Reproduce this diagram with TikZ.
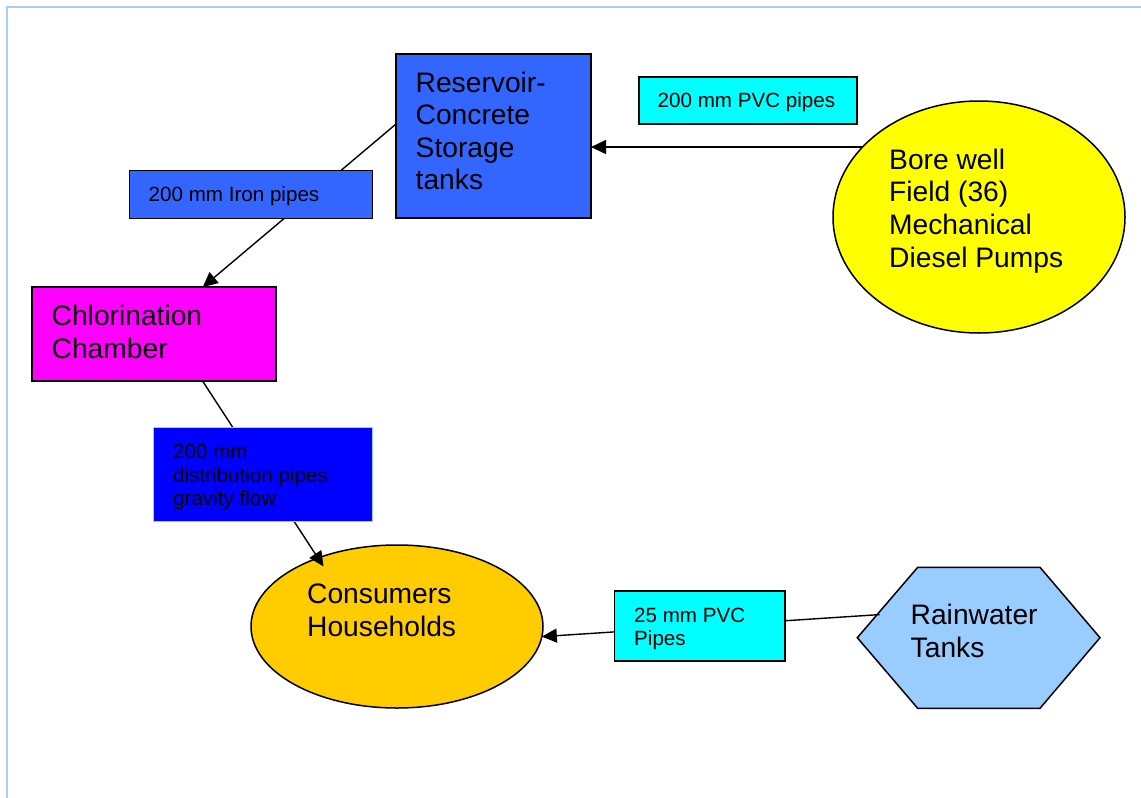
\documentclass[tikz,border=0pt]{standalone}
\usepackage{fontspec}
\setmainfont{Liberation Sans}
\usetikzlibrary{arrows.meta,shapes.geometric,calc}
\definecolor{resblue}{HTML}{3366FF}
\definecolor{pvccyan}{HTML}{00FFFF}
\definecolor{boreyel}{HTML}{FFFF00}
\definecolor{chlmag}{HTML}{FF00FF}
\definecolor{distblue}{HTML}{0000FF}
\definecolor{consorange}{HTML}{FFCC00}
\definecolor{rainblue}{HTML}{99CCFF}
\definecolor{framec}{HTML}{A6CFFF}
\newcommand\txtbig{\fontsize{28.2}{32.6}\selectfont}
\newcommand\txtsmall{\fontsize{20.6}{23.4}\selectfont}
\begin{document}
\begin{tikzpicture}[x=1pt,y=-1pt,
  shapebox/.style={draw=black, line width=1.5pt, inner sep=0pt, outer sep=0pt, rectangle},
  ovalbox/.style={draw=black, line width=1.5pt, inner sep=0pt, outer sep=0pt, ellipse},
  labbox/.style={draw=black, line width=1.5pt, inner sep=0pt, outer sep=0pt, rectangle},
  bigtxt/.style={anchor=base west, inner sep=0pt, align=left, font=\txtbig},
  smalltxt/.style={anchor=base west, inner sep=0pt, align=left, font=\txtsmall},
  conn/.style={line width=1.4pt, draw=black, -{Triangle[length=15pt,width=14pt]}},
  plainconn/.style={line width=1.4pt, draw=black}]
\useasboundingbox (0,0) rectangle (1141,798);
\fill[white] (0,0) rectangle (1141,798);
\draw[framec, line width=2pt] (7.3,798) -- (7.3,6.8) -- (1141,6.8);

% main shapes
\node[shapebox, fill=resblue, minimum width=195pt, minimum height=164pt] (res) at (493.5,136) {};
\node[ovalbox, fill=boreyel, minimum width=292pt, minimum height=232pt] (bore) at (979,217) {};
\node[shapebox, fill=chlmag, minimum width=244pt, minimum height=94pt] (chl) at (154,334.2) {};
\node[ovalbox, fill=consorange, minimum width=292pt, minimum height=163pt] (cons) at (397,626.5) {};
\draw[line width=1.5pt, fill=rainblue] (857.3,637.7) -- (917.7,567.3) -- (1040,567.3) -- (1100,637.7) -- (1040,708.3) -- (917.7,708.3) -- cycle;
\coordinate (rainedge) at (879.5,614.6);

% connectors
\draw[conn] (bore.149.5) -- (bore.149.5 -| res.east);
\draw[conn] (res.173) -- (chl.44);
\draw[conn] (chl.-44) -- ($(cons.center)+(-73.5,-60)$);
\draw[conn] (rainedge) -- (cons.-4);

% pipe labels
\node[labbox, fill=pvccyan, minimum width=218pt, minimum height=47pt] (pvc) at (748,100.5) {};
\node[labbox, fill=resblue, minimum width=243.4pt, minimum height=47.6pt] (iron) at (251,194.5) {};
\node[labbox, draw=rainblue, fill=distblue, minimum width=219.4pt, minimum height=94.4pt] (dist) at (263,474.5) {};
\node[labbox, fill=pvccyan, minimum width=170.4pt, minimum height=70pt] (small) at (699.8,626) {};

% texts (base anchor = baseline of the last line)
\node[bigtxt] (resT) at (415.5,189.8) {Reservoir-\\Concrete\\Storage\\tanks};
\node[bigtxt] (boreT) at (889,267) {Bore well\\Field (36)\\Mechanical\\Diesel Pumps};
\node[bigtxt] (chlT) at (51.5,358.3) {Chlorination\\Chamber};
\node[bigtxt] (consT) at (307,636) {Consumers\\Households};
\node[bigtxt] (rain) at (910.5,657.5) {Rainwater\\Tanks};
\node[smalltxt] (pvcT) at (657.5,107.2) {200 mm PVC pipes};
\node[smalltxt] (ironT) at (148.5,201.5) {200 mm Iron pipes};
\node[smalltxt] (distT) at (173,505.5) {200 mm\\distribution pipes\\gravity flow};
\node[smalltxt] (smallT) at (634,645.5) {\fontsize{20.6}{24.3}\selectfont 25 mm PVC\\Pipes};
\end{tikzpicture}
\end{document}
